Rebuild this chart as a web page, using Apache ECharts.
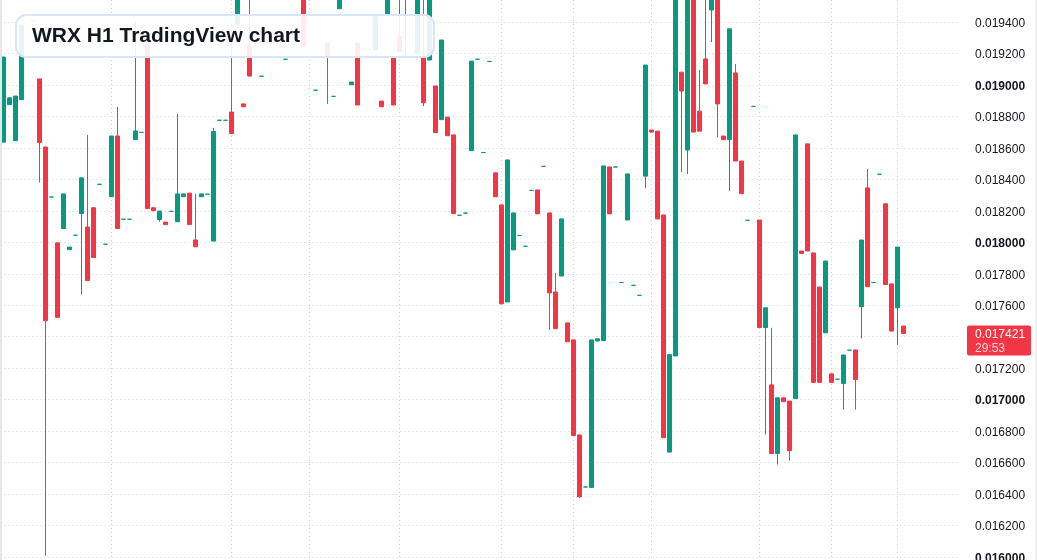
<!DOCTYPE html>
<html>
<head>
<meta charset="utf-8">
<script src="https://cdn.jsdelivr.net/npm/echarts@6/dist/echarts.min.js"></script>
<style>
html,body{margin:0;padding:0;background:#ffffff;}
#chart{width:1037px;height:560px;}
</style>
</head>
<body>
<div id="chart"></div>
<script>
const chartTitle = 'WRX H1 TradingView chart';
const countdownText = '29:53';

// hourly candles, oldest first (candles above the frame are estimates)
const opens = [
0.018637,0.018876,0.018646,0.018907,0.019600,0.019407,0.019039,0.018606,0.018288,0.017997,
0.018088,0.017954,0.018045,0.018183,0.018097,0.018220,0.018369,0.017988,0.018290,0.018676,
0.018147,0.018147,0.018653,0.018699,0.019257,0.018220,0.018145,0.018129,0.018197,0.018131,
0.018290,0.018313,0.018015,0.018290,0.018306,0.018008,0.018776,0.018776,0.018828,0.019386,
0.018880,0.019254,0.019620,0.019056,0.019650,0.019700,0.019640,0.019164,0.019650,0.019720,
0.019620,0.019640,0.018967,0.019700,0.019267,0.018928,0.019485,0.019650,0.019002,0.019267,
0.019227,0.019227,0.019223,0.018898,0.019445,0.019176,0.019312,0.019580,0.019640,0.019202,
0.019178,0.019159,0.018994,0.018780,0.018796,0.018683,0.018172,0.018186,0.018583,0.019164,
0.018571,0.019150,0.018442,0.018238,0.017621,0.017952,0.018044,0.017975,0.018330,0.018333,
0.018483,0.018187,0.017684,0.017786,0.017488,0.017380,0.016776,0.016445,0.016442,0.017373,
0.017376,0.018479,0.018479,0.017745,0.018142,0.017727,0.017663,0.018421,0.018714,0.018707,
0.018174,0.016667,0.017278,0.019082,0.018587,0.019600,0.018834,0.019166,0.019477,0.019620,
0.018676,0.018653,0.019077,0.018517,0.018140,0.018864,0.018142,0.017459,0.017094,0.016658,
0.017012,0.016991,0.017007,0.017945,0.018626,0.017933,0.017716,0.017425,0.017164,0.017130,
0.017103,0.017314,0.017316,0.017591,0.018346,0.017745,0.018433,0.018245,0.017736,0.017584,
0.017468
];
const closes = [
0.019178,0.018919,0.018930,0.019382,0.019680,0.019407,0.018635,0.017502,0.018288,0.017523,
0.018308,0.017970,0.018045,0.018410,0.017757,0.017904,0.018369,0.017988,0.018676,0.018088,
0.018147,0.018147,0.018708,0.018699,0.018215,0.018201,0.018199,0.018113,0.018197,0.018308,
0.018308,0.018113,0.017972,0.018308,0.018306,0.018705,0.018776,0.018776,0.018692,0.019650,
0.018862,0.019057,0.019680,0.019056,0.019700,0.019640,0.019690,0.019164,0.019720,0.019660,
0.019244,0.019700,0.018967,0.019650,0.019186,0.018928,0.019650,0.019700,0.019019,0.018873,
0.019227,0.019227,0.019439,0.018862,0.019620,0.018873,0.019212,0.019640,0.019700,0.019620,
0.018887,0.019620,0.018698,0.019286,0.018678,0.018183,0.018172,0.018186,0.019152,0.019164,
0.018571,0.019150,0.018290,0.017609,0.018524,0.018187,0.018044,0.017975,0.018330,0.018181,
0.018483,0.017679,0.017452,0.018149,0.017368,0.016772,0.016383,0.016445,0.017380,0.017387,
0.018486,0.018181,0.018479,0.017745,0.018435,0.017727,0.017663,0.019127,0.018701,0.018149,
0.016758,0.017287,0.019600,0.018962,0.019600,0.018701,0.018707,0.019007,0.019600,0.018880,
0.018653,0.019357,0.018517,0.018310,0.018140,0.018864,0.017459,0.017584,0.016658,0.017012,
0.016987,0.016676,0.018683,0.017929,0.017945,0.017110,0.017110,0.017881,0.017110,0.017130,
0.017284,0.017314,0.017128,0.018015,0.017718,0.017745,0.018433,0.017732,0.017436,0.017970,
0.017421
];
const lows = [
0.018637,0.018876,0.018646,0.018907,0.019570,0.019407,0.018381,0.016009,0.018288,0.017523,
0.018088,0.017954,0.018045,0.017668,0.017757,0.017904,0.018369,0.017988,0.018290,0.018088,
0.018147,0.018147,0.018653,0.018699,0.018215,0.018201,0.018131,0.018113,0.018197,0.018131,
0.018290,0.018113,0.017972,0.018290,0.018306,0.018008,0.018776,0.018776,0.018692,0.019386,
0.018862,0.019057,0.019600,0.019056,0.019600,0.019610,0.019600,0.019164,0.019600,0.019620,
0.019244,0.019600,0.018967,0.019600,0.018880,0.018928,0.019485,0.019600,0.019002,0.018873,
0.019227,0.019227,0.019223,0.018862,0.019445,0.018873,0.019212,0.019172,0.019600,0.019202,
0.018867,0.019159,0.018698,0.018780,0.018678,0.018183,0.018172,0.018186,0.018583,0.019164,
0.018571,0.019150,0.018290,0.017609,0.017621,0.017952,0.018044,0.017975,0.018330,0.018181,
0.018483,0.017443,0.017452,0.017786,0.017368,0.016772,0.016375,0.016445,0.016442,0.017373,
0.017376,0.018181,0.018479,0.017745,0.018142,0.017727,0.017663,0.018346,0.018701,0.018149,
0.016758,0.016667,0.017278,0.018447,0.018435,0.018701,0.018707,0.019007,0.019273,0.018667,
0.018653,0.018326,0.018517,0.018310,0.018140,0.018864,0.017459,0.016779,0.016658,0.016588,
0.016987,0.016613,0.017007,0.017929,0.017945,0.017110,0.017110,0.017425,0.017110,0.017130,
0.016937,0.017314,0.016937,0.017389,0.017718,0.017745,0.018433,0.017732,0.017436,0.017350,
0.017421
];
const highs = [
0.019178,0.018919,0.018930,0.019382,0.019720,0.019407,0.019039,0.018606,0.018288,0.017997,
0.018308,0.017970,0.018045,0.018410,0.018683,0.018220,0.018369,0.017988,0.018676,0.018860,
0.018147,0.018147,0.019407,0.018699,0.019257,0.018220,0.018199,0.018129,0.018197,0.018817,
0.018308,0.018313,0.018308,0.018308,0.018306,0.018728,0.018776,0.018776,0.019394,0.019700,
0.018880,0.019600,0.019720,0.019056,0.019750,0.019760,0.019730,0.019164,0.019760,0.019770,
0.019660,0.019740,0.018967,0.019750,0.019267,0.018928,0.019680,0.019750,0.019019,0.019267,
0.019227,0.019227,0.019439,0.018898,0.019650,0.019176,0.019600,0.019680,0.019740,0.019650,
0.019600,0.019650,0.018994,0.019286,0.018796,0.018683,0.018172,0.018186,0.019152,0.019164,
0.018571,0.019150,0.018442,0.018238,0.018524,0.018187,0.018044,0.017975,0.018330,0.018333,
0.018483,0.018187,0.017806,0.018149,0.017488,0.017380,0.016776,0.016445,0.017380,0.017387,
0.018486,0.018479,0.018479,0.017745,0.018435,0.017727,0.017663,0.019127,0.018714,0.018707,
0.018174,0.017287,0.019650,0.019082,0.019650,0.019650,0.019096,0.019600,0.019650,0.019650,
0.018676,0.019357,0.019134,0.018517,0.018140,0.018864,0.018142,0.017584,0.017457,0.017012,
0.017012,0.016991,0.018683,0.017945,0.018626,0.017933,0.017716,0.017881,0.017164,0.017130,
0.017284,0.017314,0.017316,0.018015,0.018467,0.017745,0.018433,0.018245,0.017736,0.017970,
0.017468
];

// time grid lines fall on these candles
const timeGridCandles = [18, 38, 51, 66, 83, 95, 108, 126, 138, 149];

// price axis
const priceMin = 0.0160;
const priceMax = 0.0195405;
const priceStep = 0.0002;

// 151 candles plus empty right margin slots
const totalSlots = 160;
const categories = Array.from({length: totalSlots}, (_, i) => 'h' + i);

const UP = '#089981';
const DOWN = '#F23645';
const TEXT = '#131722';
const FONT = '"Liberation Sans", Arial, sans-serif';

const candleData = opens.map((o, i) => [o, closes[i], lows[i], highs[i]]);
const lastClose = closes[closes.length - 1];

const chart = echarts.init(document.getElementById('chart'), null, {renderer: 'canvas'});

chart.setOption({
  animation: false,
  backgroundColor: '#ffffff',
  title: {
    text: chartTitle,
    left: 16,
    top: 15,
    padding: [9, 134, 9, 16],
    backgroundColor: 'rgba(255,255,255,0.9)',
    borderColor: '#dae6f8',
    borderWidth: 2,
    borderRadius: 10,
    textStyle: {
      color: TEXT,
      fontSize: 21,
      fontWeight: 'bold',
      fontFamily: FONT,
      lineHeight: 24
    }
  },
  grid: {left: 0.5, right: 76.5, top: 0, bottom: 3, containLabel: false, outerBoundsMode: 'none'},
  xAxis: {
    type: 'category',
    data: categories,
    boundaryGap: true,
    axisLine: {show: false},
    axisTick: {show: false},
    axisLabel: {show: false},
    splitLine: {show: false}
  },
  yAxis: {
    type: 'value',
    position: 'right',
    min: priceMin,
    max: priceMax,
    interval: priceStep,
    axisLine: {show: false},
    axisTick: {show: false},
    splitLine: {
      show: true,
      showMaxLine: false,
      lineStyle: {color: '#cfd2d8', type: [1, 3], width: 1}
    },
    axisLabel: {
      show: true,
      showMaxLabel: false,
      hideOverlap: false,
      margin: 14.5,
      align: 'left',
      padding: [3, 0, 0, 0],
      color: TEXT,
      fontSize: 12,
      fontFamily: FONT,
      formatter: function (v) {
        const s = v.toFixed(6);
        const k = v * 1000;
        return Math.abs(k - Math.round(k)) < 1e-6 ? '{b|' + s + '}' : s;
      },
      rich: {
        b: {fontWeight: 'bold', color: TEXT, fontSize: 12, fontFamily: FONT}
      }
    }
  },
  series: [
    {
      type: 'line',
      data: [],
      z: 1,
      silent: true,
      markLine: {
        z: 1,
        silent: true,
        symbol: ['none', 'none'],
        label: {show: false},
        lineStyle: {color: '#cfd2d8', type: [1, 3], width: 1},
        data: timeGridCandles.map(i => ({xAxis: i}))
      }
    },
    {
      type: 'candlestick',
      data: candleData,
      clip: true,
      z: 2,
      barWidth: 4,
      itemStyle: {
        color: UP,
        color0: DOWN,
        borderColor: UP,
        borderColor0: DOWN,
        borderColorDoji: UP,
        borderWidth: 1
      },
      markLine: {
        silent: true,
        symbol: ['none', 'none'],
        label: {show: false},
        lineStyle: {color: DOWN, type: [1, 2], width: 1},
        data: [{yAxis: lastClose}]
      }
    }
  ]
});

const py = chart.convertToPixel({yAxisIndex: 0}, lastClose);
chart.setOption({
  graphic: [
    {type: 'rect', z: 50, shape: {x: 0, y: 0, width: 2, height: 560}, style: {fill: '#e6e7ea'}},
    {type: 'rect', z: 50, shape: {x: 1035, y: 0, width: 2, height: 560}, style: {fill: '#eeeff1'}},
    {type: 'rect', z: 60, shape: {x: 967, y: py - 8, width: 64, height: 30, r: 2}, style: {fill: DOWN}},
    {type: 'text', z: 61, x: 975, y: py + 1.5, style: {text: lastClose.toFixed(6), fill: '#ffffff', font: '12px ' + FONT, verticalAlign: 'middle', align: 'left'}},
    {type: 'text', z: 61, x: 975, y: py + 15, style: {text: countdownText, fill: 'rgba(255,255,255,0.78)', font: '12px ' + FONT, verticalAlign: 'middle', align: 'left'}}
  ]
});
</script>
</body>
</html>
